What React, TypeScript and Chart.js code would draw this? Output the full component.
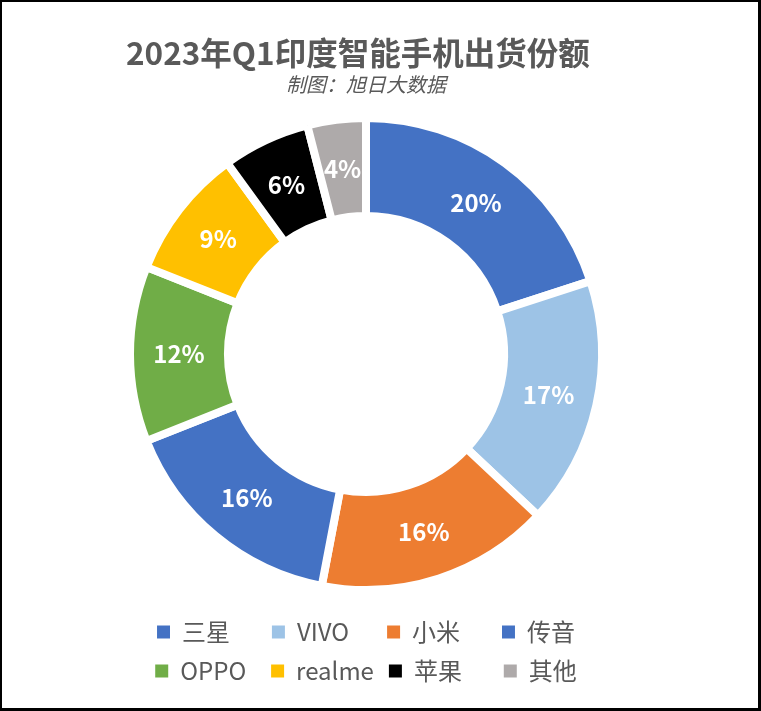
import React, { useEffect, useRef } from "react";
import { Chart, registerables } from "chart.js";

Chart.register(...registerables);

const categories = ["三星", "VIVO", "小米", "传音", "OPPO", "realme", "苹果", "其他"];
const shares = [20, 17, 16, 16, 12, 9, 6, 4];
const sliceColors = ["#4472C4", "#9DC3E6", "#ED7D31", "#4472C4", "#70AD47", "#FFC000", "#000000", "#AEAAAA"];

const titleText = "2023年Q1印度智能手机出货份额";
const subtitleText = "制图：旭日大数据";

const FAMILY = "'Noto Sans CJK SC', 'Noto Sans', sans-serif";
const LEGEND_SIZE = 24;
const TEXT_COLOR = "#595959";

function padLabel(text: string, target: number): string {
  const ctx = document.createElement("canvas").getContext("2d")!;
  ctx.font = `${LEGEND_SIZE}px ${FAMILY}`;
  let t = text;
  let n = 0;
  while (n < 60 && ctx.measureText(t + " ").width <= target) { t += " "; n++; }
  n = 0;
  while (n < 60) {
    const w0 = ctx.measureText(t).width;
    const w1 = ctx.measureText(t + "\u200A").width;
    if (w1 <= w0 || w1 > target) break;
    t += "\u200A"; n++;
  }
  return t;
}

const labelPlugin = {
  id: "sliceLabels",
  afterDatasetsDraw(chart: any) {
    const { ctx } = chart;
    const meta = chart.getDatasetMeta(0);
    ctx.save();
    ctx.font = `bold 24px ${FAMILY}`;
    ctx.fillStyle = "#FFFFFF";
    ctx.textAlign = "center";
    ctx.textBaseline = "middle";
    meta.data.forEach((arc: any, i: number) => {
      const p = arc.tooltipPosition(false);
      ctx.fillText(`${chart.data.datasets[0].data[i]}%`, p.x, p.y);
    });
    ctx.restore();
  },
};

export default function App() {
  const ref = useRef<HTMLCanvasElement>(null);
  useEffect(() => {
    if (!ref.current) return;
    const chart = new Chart(ref.current, {
      type: "doughnut",
      data: {
        labels: categories,
        datasets: [
          {
            data: shares,
            backgroundColor: sliceColors,
            borderColor: "#FFFFFF",
            borderWidth: 8,
            hoverBorderWidth: 8,
            hoverOffset: 0,
          },
        ],
      },
      options: {
        responsive: false,
        animation: false,
        cutout: "58.5%",
        layout: { padding: { left: 124, right: 152, top: 0, bottom: 15 } },
        plugins: {
          tooltip: { enabled: false },
          title: {
            display: true,
            text: titleText,
            align: "start",
            color: TEXT_COLOR,
            font: { family: FAMILY, size: 31.5, weight: "bold" },
            padding: { top: 32.6, bottom: 0 },
          },
          subtitle: {
            display: true,
            text: subtitleText,
            color: TEXT_COLOR,
            font: { family: FAMILY, size: 20, style: "italic" },
            padding: { top: 0, bottom: 6.6 },
          },
          legend: {
            position: "bottom",
            labels: {
              color: TEXT_COLOR,
              font: { family: FAMILY, size: LEGEND_SIZE },
              boxWidth: 13,
              boxHeight: 13,
              padding: 15,
              generateLabels: () =>
                categories.map((c, i) => ({
                  text: i % 4 === 3 ? c : padLabel(c, 76),
                  fillStyle: sliceColors[i],
                  strokeStyle: "rgba(0,0,0,0)",
                  lineWidth: 0,
                  fontColor: TEXT_COLOR,
                  hidden: false,
                  index: i,
                })),
            },
          },
        },
      },
      plugins: [labelPlugin],
    });
    return () => chart.destroy();
  }, []);
  return (
    <div
      style={{
        position: "absolute",
        left: 0,
        top: 0,
        width: 761,
        height: 711,
        boxSizing: "border-box",
        borderStyle: "solid",
        borderColor: "#000",
        borderWidth: "2px 3px 3px 2px",
        background: "#fff",
      }}
    >
      <canvas ref={ref} width={756} height={706} style={{ display: "block" }} />
    </div>
  );
}
